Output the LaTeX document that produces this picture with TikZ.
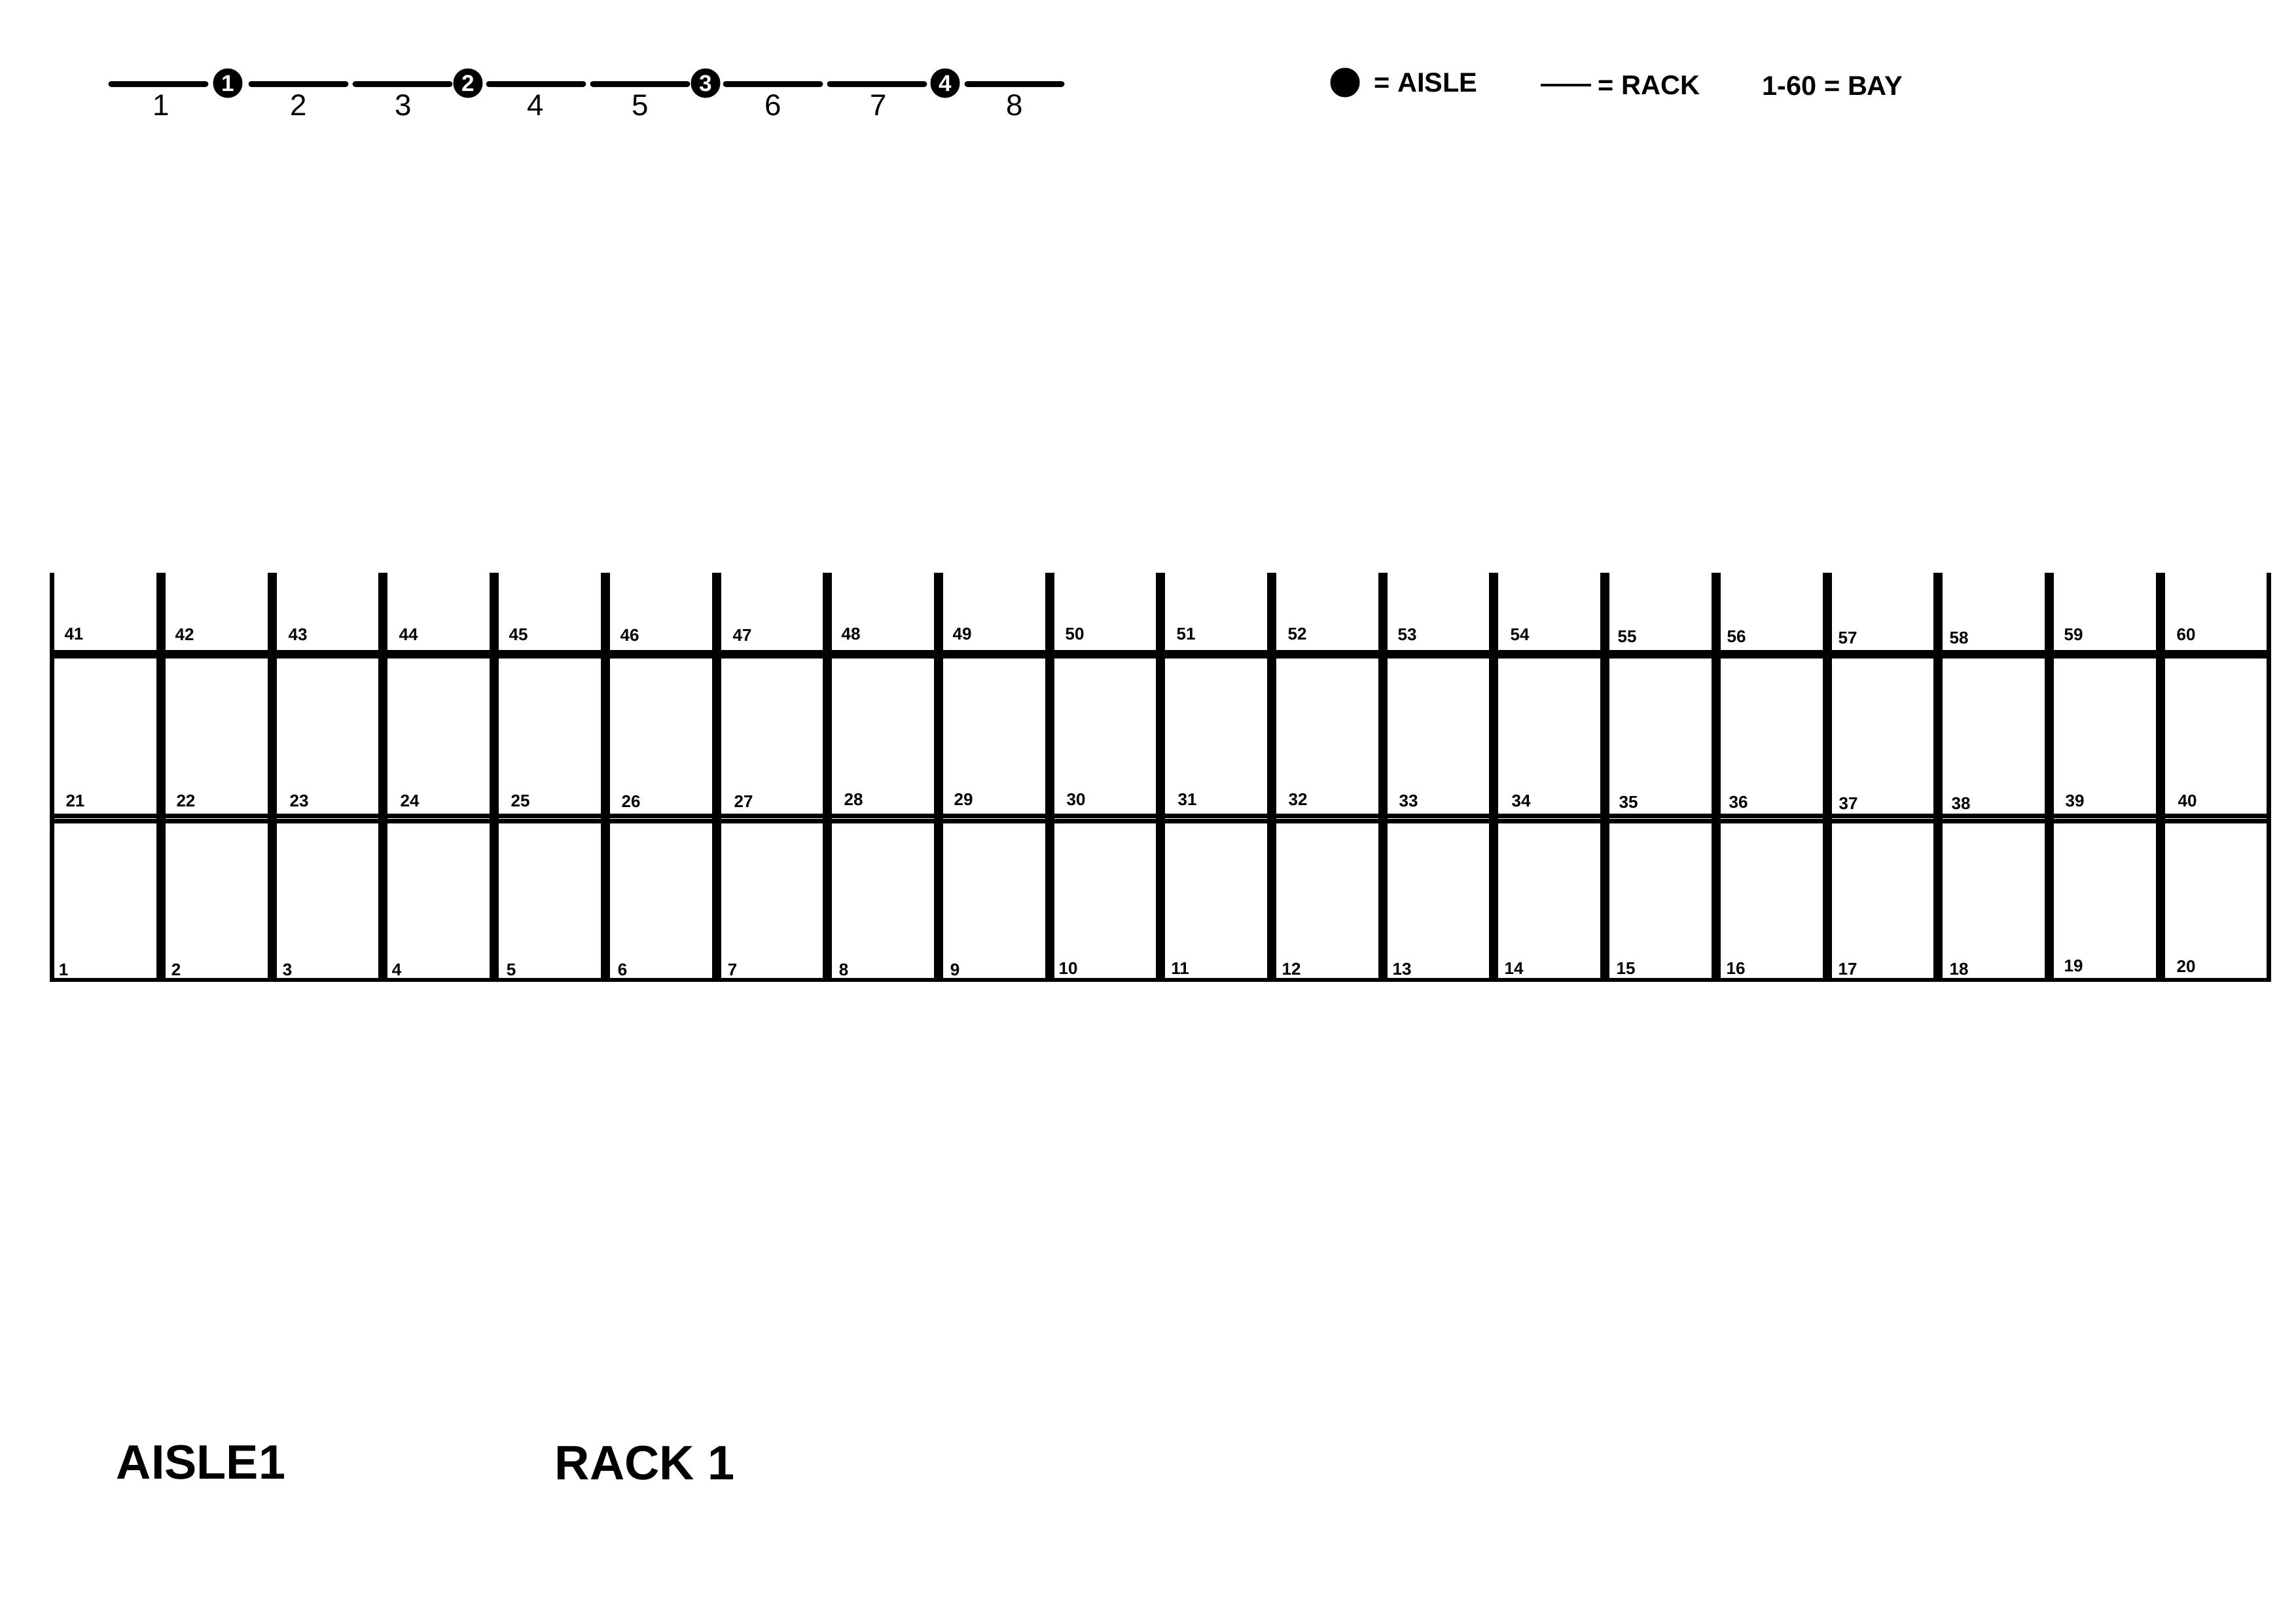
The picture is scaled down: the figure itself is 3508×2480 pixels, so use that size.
\documentclass[tikz,border=0pt]{standalone}
\usepackage{fontspec}
\setmainfont{Liberation Sans}
\usetikzlibrary{positioning}

\tikzset{
    baylabel/.style={font=\bfseries\fontsize{7.4}{9}\selectfont, inner sep=0pt, yshift=-0.015cm},
    racknum/.style={font=\fontsize{13}{15}\selectfont, inner sep=0pt},
    aislenode/.style={circle, fill=black, text=white, inner sep=0pt, minimum size=0.45cm, font=\bfseries\fontsize{10}{12}\selectfont},
    legendtext/.style={font=\bfseries\fontsize{11.8}{14}\selectfont, inner sep=0pt, anchor=west},
    titletext/.style={font=\bfseries\fontsize{21}{25}\selectfont, inner sep=0pt, anchor=west},
    rackline/.style={line width=0.09cm, line cap=round},
    thickbar/.style={line width=0.14cm},
    thinbar/.style={line width=0.07cm}
}

\begin{document}
\begin{tikzpicture}[x=0.01cm, y=-0.01cm]

\useasboundingbox (0,0) rectangle (3508,2480);

% Aisles
\foreach \n/\x in {1/348, 2/715, 3/1078, 4/1444}
    \node[aislenode] (aisle\n) at (\x,127) {\n};

% Racks
\foreach \n/\x/\tx in {1/170/246, 2/384/456, 3/543/616, 4/747/818, 5/906/978, 6/1109/1181, 7/1268/1342, 8/1478/1550} {
    \coordinate (rack\n a) at (\x,128);
    \coordinate (rack\n b) at (\x+144,128);
    \draw[rackline] (rack\n a) -- (rack\n b);
    \node[racknum] (racknum\n) at (\tx,161) {\n};
}

% Legend
\node[aislenode] (legendaisle) at (2055,126) {};
\node[legendtext] (aisletext) at (2099,126) {= AISLE};
\coordinate (legenda) at (2354,130);
\coordinate (legendb) at (2431,130);
\draw[line width=0.035cm] (legenda) -- (legendb);
\node[legendtext] (racktext) at (2441,130) {= RACK};
\node[legendtext] (baytext) at (2692,131) {1-60 = BAY};

% Uprights
\foreach \i in {0,...,18}
    \draw[thickbar] (246+169.7*\i,875) -- (246+169.7*\i,1500);
\draw[thinbar] (79.5,875) -- (79.5,1500);
\draw[thinbar] (3466.5,875) -- (3466.5,1500);

% Beams
\draw[line width=0.135cm] (76,999.7) -- (3470,999.7);
\draw[thinbar] (76,1246.5) -- (3470,1246.5);
\draw[thinbar] (76,1254.5) -- (3470,1254.5);
\draw[line width=0.065cm] (76,1497) -- (3470,1497);

% Bays
\foreach \n/\x/\y in {41/113/967, 42/282/968, 43/455/968, 44/624/968, 45/792/968, 46/962/969, 47/1134/969, 48/1300/967, 49/1470/967, 50/1642/967,
    51/1812/967, 52/1982/967, 53/2150/968, 54/2322/968, 55/2486/971, 56/2653/971, 57/2823/973, 58/2993/973, 59/3168/968, 60/3340/968,
    21/115/1222, 22/284/1222, 23/457/1222, 24/626/1222, 25/795/1222, 26/964/1223, 27/1136/1223, 28/1304/1220, 29/1472/1220, 30/1644/1220,
    31/1814/1220, 32/1983/1220, 33/2152/1222, 34/2324/1222, 35/2488/1224, 36/2656/1224, 37/2824/1226, 38/2996/1226, 39/3170/1222, 40/3342/1222,
    1/97/1480, 2/269/1480, 3/439/1480, 4/606/1480, 5/781/1480, 6/951/1480, 7/1119/1480, 8/1289/1480, 9/1459/1480, 10/1632/1478,
    11/1803/1478, 12/1973/1479, 13/2142/1479, 14/2313/1478, 15/2484/1478, 16/2652/1478, 17/2823/1479, 18/2993/1479, 19/3168/1474, 20/3340/1475}
    \node[baylabel] (bay\n) at (\x,\y) {\n};

% Titles
\node[titletext] (aisletitle) at (177,2234) {AISLE1};
\node[titletext] (racktitle) at (847,2235) {RACK 1};

\end{tikzpicture}
\end{document}
